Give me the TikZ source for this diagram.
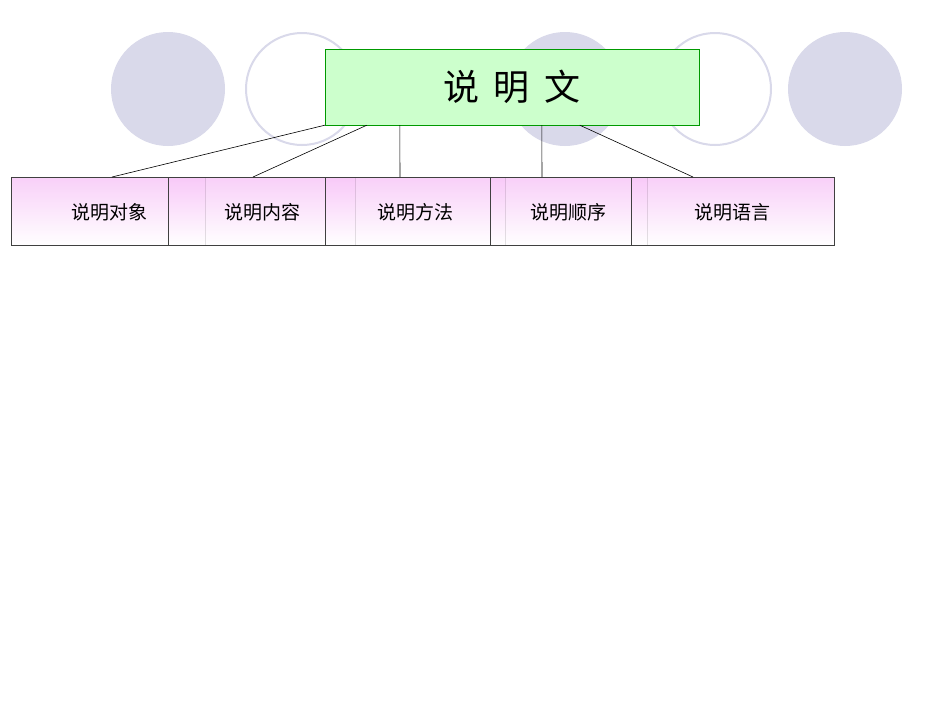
\documentclass[tikz,border=0pt]{standalone}
\usepackage{fontspec}
\newfontfamily\cjk{Noto Sans CJK SC}
\definecolor{circ}{HTML}{D9D9EA}
\definecolor{gfill}{HTML}{CCFFCC}
\definecolor{gline}{HTML}{009900}
\definecolor{pk}{HTML}{F8C8F8}
\tikzset{x=1pt,y=-1pt,
 fc/.style={fill=circ,draw=none},
 oc/.style={draw=circ,line width=2pt,fill=white},
 sub/.style={draw=black!75,top color=pk,bottom color=white,fill opacity=0.85,text opacity=1},
 lbl/.style={font=\cjk\fontsize{19}{22}\selectfont},
 con/.style={draw=black,line width=0.6pt}}
\begin{document}
\begin{tikzpicture}
\useasboundingbox (0,0) rectangle (950,713);
\fill[white] (0,0) rectangle (950,713);
\path[fc] (168,89) circle (57);
\path[oc] (302,89) circle (56);
\path[fc] (565,89) circle (57);
\path[oc] (715,89) circle (56);
\path[fc] (845,89) circle (57);
\node[draw=gline,fill=gfill,minimum width=374pt,minimum height=76pt,inner sep=0,font=\cjk\fontsize{36}{40}\selectfont] (top) at (512,87) {说\hspace{0.4em}明\hspace{0.4em}文};
\path[sub] (11,177) rectangle (205,245);
\path[sub] (168,177) rectangle (355,245);
\path[sub] (325,177) rectangle (505,245);
\path[sub] (490,177) rectangle (647,245);
\path[sub] (631,177) rectangle (834,245);
\node[lbl] (a) at (109,212) {说明对象};
\node[lbl] (b) at (262,212) {说明内容};
\node[lbl] (c) at (415,212) {说明方法};
\node[lbl] (d) at (568,212) {说明顺序};
\node[lbl] (e) at (732,212) {说明语言};
\coordinate (ta) at (112,177); \coordinate (tb) at (253,177);
\coordinate (tc) at (400,177); \coordinate (td) at (542,177); \coordinate (te) at (693,177);
\draw[con] (top.south west) -- (ta);
\draw[con] ([xshift=42pt]top.south west) -- (tb);
\draw[con] ([xshift=75pt]top.south west) -- (tc);
\draw[con] ([xshift=217pt]top.south west) -- (td);
\draw[con] ([xshift=255pt]top.south west) -- (te);
\end{tikzpicture}
\end{document}
